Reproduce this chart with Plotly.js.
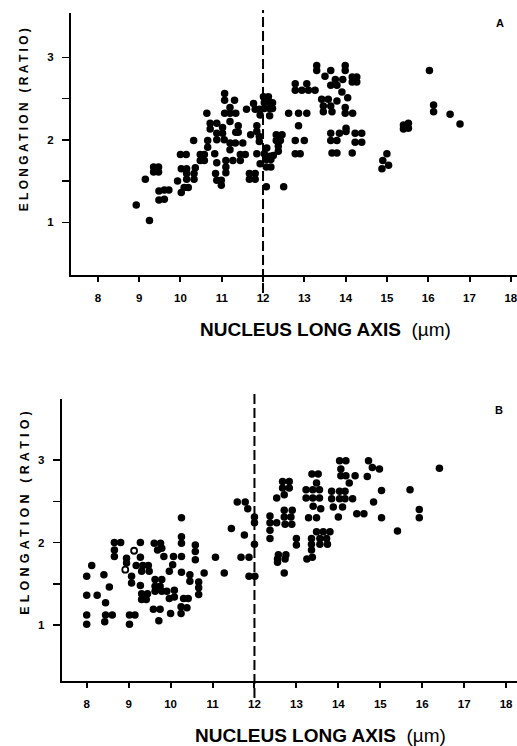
<!DOCTYPE html>
<html>
<head>
<meta charset="utf-8">
<script src="https://cdn.plot.ly/plotly-3.0.1.min.js"></script>
<style>html,body{margin:0;padding:0;background:#fff;}#chart{width:517px;height:746px;}</style>
</head>
<body>
<div id="chart"></div>
<script>
// ---- Data ----
const xTickVals = [8, 9, 10, 11, 12, 13, 14, 15, 16, 17, 18];
const xTickText = ['8', '9', '10', '11', '12', '13', '14', '15', '16', '17', '18'];
const yTickVals = [1, 1.5, 2, 2.5, 3];
const yTickText = ['1', '', '2', '', '3'];
const thresholdX = 12;

// Panel A
const aX = [8.93,9.25,9.15,
 9.35,9.47,9.35,9.47,
 9.48,9.61,9.72,9.48,9.61,
 9.93,10.02,10.0,10.14,10.02,10.15,
 10.15,10.33,10.15,10.33,10.09,10.19,
 10.32,10.36,10.48,10.58,10.48,10.58,
 10.64,10.66,10.66,10.72,10.88,10.72,
 10.83,10.88,10.88,10.88,11.02,11.02,
 10.85,10.88,10.99,10.99,
 11.07,11.07,11.31,11.07,11.20,11.20,11.34,11.20,
 11.06,11.20,11.33,11.20,11.34,11.40,11.40,11.51,
 11.10,11.27,11.10,11.10,11.45,11.57,11.45,
 11.60,11.70,11.77,11.81,11.91,11.85,11.85,11.91,11.91,
 11.67,11.81,11.67,11.81,11.85,11.93,
 12.01,12.13,12.03,12.17,12.03,12.16,11.93,12.16,12.23,12.23,
 12.09,12.03,12.17,12.25,12.08,12.19,12.08,12.19,
 12.08,12.50,
 12.32,12.46,12.32,12.42,12.37,12.37,
 12.62,
 12.78,13.06,12.78,12.94,13.10,13.26,
 12.86,13.06,12.86,12.78,13.00,12.78,12.90,
 13.30,13.30,
 13.42,13.58,13.46,13.64,13.46,13.67,
 13.50,13.64,13.64,13.79,13.75,13.93,13.79,13.91,
 13.99,13.99,14.05,13.99,13.99,14.17,
 14.16,14.27,14.16,14.27,
 13.64,13.85,13.64,13.79,14.01,14.01,
 13.67,13.79,14.16,
 14.23,14.39,14.23,14.39,
 14.88,14.90,15.00,15.04,
 15.40,15.52,15.40,15.52,
 16.03,16.13,16.13,16.53,16.77];
const aY = [1.21,1.02,1.52,
 1.67,1.67,1.61,1.61,
 1.38,1.39,1.39,1.27,1.28,
 1.50,1.36,1.82,1.82,1.65,1.65,
 1.59,1.59,1.52,1.52,1.42,1.42,
 1.99,1.66,1.82,1.82,1.75,1.75,
 2.32,1.99,1.91,2.20,2.20,2.13,
 1.83,2.00,1.72,2.08,2.08,2.15,
 1.59,1.51,1.51,1.45,
 2.56,2.48,2.48,2.32,2.32,2.39,2.32,2.22,
 2.00,1.96,1.96,1.88,2.09,2.09,2.17,1.96,
 1.75,1.75,1.67,1.60,1.82,1.82,1.75,
 2.37,2.06,2.44,2.37,2.37,2.17,2.10,2.04,1.98,
 1.59,1.59,1.52,1.52,1.83,1.71,
 2.52,2.52,2.45,2.45,2.38,2.38,2.30,2.29,2.45,2.38,
 1.90,1.83,1.80,1.81,1.76,1.76,1.67,1.67,
 1.43,1.43,
 2.06,2.06,1.99,1.99,1.92,1.86,
 2.32,
 2.68,2.68,2.60,2.60,2.60,2.60,
 2.32,2.32,2.17,1.99,1.99,1.83,1.83,
 2.90,2.84,
 2.49,2.49,2.41,2.41,2.34,2.34,
 2.77,2.84,2.66,2.66,2.73,2.73,2.47,2.58,
 2.90,2.84,2.51,2.39,2.32,2.32,
 2.76,2.76,2.70,2.70,
 2.08,2.08,1.99,1.99,2.14,2.10,
 1.84,1.84,1.84,
 2.08,2.08,1.97,1.97,
 1.65,1.75,1.83,1.69,
 2.18,2.20,2.13,2.14,
 2.84,2.42,2.34,2.31,2.19];

// Panel B
const bX = [8.00,8.00,8.00,8.00,8.12,8.25,8.41,8.45,8.45,8.61,8.43,8.54,
 8.66,8.81,8.66,8.66,8.95,8.95,
 9.02,9.15,9.02,9.07,9.07,9.18,9.34,9.47,9.28,9.28,9.31,9.49,9.28,9.31,9.45,9.31,9.42,
 9.61,9.76,9.69,9.79,9.84,9.63,9.79,9.63,9.75,9.63,9.79,9.91,9.59,9.75,9.72,
 10.07,10.05,9.97,9.97,10.00,10.09,10.09,
 10.26,10.26,10.26,10.26,10.26,10.31,10.42,10.25,10.25,10.39,10.46,10.46,
 10.59,10.59,10.59,10.67,10.67,10.67,10.80,
 11.07,11.28,11.45,11.59,11.78,11.84,11.76,11.68,11.87,11.87,12.01,
 12.00,12.00,12.00,
 12.37,12.37,12.37,12.37,12.53,12.53,
 12.67,12.83,12.67,12.83,12.71,12.71,12.90,12.71,12.87,12.73,12.89,
 12.57,12.75,12.55,12.73,12.55,12.71,
 13.00,13.00,
 13.23,13.39,13.55,13.23,13.39,13.55,13.37,13.52,13.48,13.40,13.58,13.29,13.48,
 13.48,13.64,13.80,13.36,13.56,13.72,13.36,13.56,13.74,13.36,13.25,13.38,
 13.84,14.03,14.16,13.84,14.03,14.16,13.88,14.10,14.00,
 14.03,14.18,14.06,14.06,14.18,14.40,14.26,14.34,14.44,14.61,
 14.72,14.81,14.98,14.69,15.03,14.84,15.03,
 15.41,15.71,15.93,15.93,16.41];
const bY = [1.59,1.36,1.12,1.01,1.72,1.36,1.61,1.27,1.12,1.12,1.04,1.46,
 2.00,2.00,1.91,1.83,1.81,1.75,
 1.12,1.12,1.01,1.59,1.51,1.72,1.72,1.72,2.00,1.82,1.65,1.65,1.48,1.38,1.38,1.31,1.31,
 1.99,1.99,1.91,1.93,1.83,1.55,1.55,1.47,1.47,1.41,1.41,1.41,1.19,1.19,1.05,
 1.83,1.73,1.65,1.32,1.14,1.42,1.34,
 2.30,2.07,1.99,1.83,1.64,1.32,1.32,1.22,1.14,1.21,1.61,1.53,
 1.97,1.89,1.79,1.52,1.45,1.37,1.63,
 1.82,1.63,2.17,2.49,2.49,2.41,2.09,1.82,1.82,1.59,1.59,
 2.31,2.24,1.98,
 2.32,2.24,2.15,2.05,2.24,2.54,
 2.74,2.74,2.66,2.66,2.58,2.39,2.39,2.31,2.31,2.22,2.22,
 1.85,1.85,1.80,1.80,1.76,1.63,
 2.05,1.97,
 2.64,2.64,2.64,2.54,2.54,2.54,2.83,2.83,2.72,2.44,2.41,2.30,2.30,
 2.13,2.13,2.13,2.05,2.05,2.05,1.98,1.98,1.98,1.91,1.80,1.82,
 2.62,2.62,2.62,2.53,2.53,2.53,2.43,2.43,2.31,
 2.99,2.99,2.89,2.81,2.81,2.81,2.72,2.53,2.35,2.35,
 2.99,2.91,2.89,2.80,2.63,2.49,2.30,
 2.14,2.64,2.40,2.30,2.90];
const bOpenX = [9.13, 8.92];
const bOpenY = [1.90, 1.67];

// ---- Figure ----
const dot = {color: '#000', size: 7.5};
const traces = [
  {x: aX, y: aY, xaxis: 'x', yaxis: 'y', type: 'scatter', mode: 'markers', marker: dot, hoverinfo: 'none'},
  {x: bX, y: bY, xaxis: 'x2', yaxis: 'y2', type: 'scatter', mode: 'markers', marker: dot, hoverinfo: 'none'},
  {x: bOpenX, y: bOpenY, xaxis: 'x2', yaxis: 'y2', type: 'scatter', mode: 'markers',
   marker: {color: '#fff', size: 6, symbol: 'circle', line: {color: '#000', width: 1.8}}, hoverinfo: 'none'}
];

const tickFont = {family: 'Liberation Sans, Arial, sans-serif', size: 11.5, color: '#000', weight: 'bold'};
function xAx(domainX, range, anchor) {
  return {domain: domainX, range: range, anchor: anchor,
    showline: true, linecolor: '#000', linewidth: 2, mirror: false,
    showgrid: false, zeroline: false,
    ticks: 'outside', ticklen: 5, tickwidth: 2, tickcolor: '#000',
    tickmode: 'array', tickvals: xTickVals, ticktext: xTickText,
    tickfont: tickFont, ticklabelstandoff: 6, ticklabeloverflow: 'allow', fixedrange: true};
}
function yAx(domain, range, anchor) {
  return {domain: domain, range: range, anchor: anchor,
    showline: true, linecolor: '#000', linewidth: 2, mirror: false,
    showgrid: false, zeroline: false,
    ticks: 'outside', ticklen: 7, tickwidth: 1.5, tickcolor: '#000',
    tickmode: 'array', tickvals: yTickVals, ticktext: yTickText,
    tickfont: tickFont, ticklabelstandoff: 6, ticklabeloverflow: 'allow', fixedrange: true};
}

const H = 746, W = 517;
const layout = {
  width: W, height: H,
  margin: {l: 0, r: 0, t: 0, b: 0, pad: 0},
  paper_bgcolor: '#fff', plot_bgcolor: '#fff',
  showlegend: false,
  xaxis: xAx([71/W, 1], [7.35, 18.15], 'y'),
  yaxis: yAx([(H-275.3)/H, (H-12.7)/H], [0.357, 3.54], 'x'),
  xaxis2: xAx([61.7/W, 1], [7.404, 18.26], 'y2'),
  yaxis2: yAx([(H-681)/H, (H-399.3)/H], [0.321, 3.736], 'x2'),
  shapes: [
    {type: 'line', xref: 'x', yref: 'paper', x0: thresholdX, x1: thresholdX,
     y0: (H-293)/H, y1: (H-10)/H, line: {color: '#000', width: 2, dash: '10px,4px'}},
    {type: 'line', xref: 'x2', yref: 'paper', x0: thresholdX, x1: thresholdX,
     y0: (H-698)/H, y1: (H-392)/H, line: {color: '#000', width: 2, dash: '10px,4px'}}
  ],
  annotations: [
    {text: 'A', xref: 'paper', yref: 'paper', x: 500/W, y: (H-23)/H, showarrow: false,
     xanchor: 'center', yanchor: 'middle', font: {family: 'Liberation Sans, Arial', size: 11, color: '#000', weight: 'bold'}},
    {text: 'B', xref: 'paper', yref: 'paper', x: 499/W, y: (H-410)/H, showarrow: false,
     xanchor: 'center', yanchor: 'middle', font: {family: 'Liberation Sans, Arial', size: 11, color: '#000', weight: 'bold'}},
    {text: '<b>NUCLEUS LONG AXIS</b>  (µm)', xref: 'paper', yref: 'paper', x: 325/W, y: (H-330)/H, showarrow: false,
     xanchor: 'center', yanchor: 'middle', font: {family: 'Liberation Sans, Arial', size: 19, color: '#000'}},
    {text: '<b>NUCLEUS LONG AXIS</b>  (µm)', xref: 'paper', yref: 'paper', x: 320/W, y: (H-735)/H, showarrow: false,
     xanchor: 'center', yanchor: 'middle', font: {family: 'Liberation Sans, Arial', size: 19, color: '#000'}},
    {text: '<b>ELONGATION (RATIO)</b>', xref: 'paper', yref: 'paper', x: 23.5/W, y: (H-118)/H, showarrow: false,
     textangle: -90, xanchor: 'center', yanchor: 'middle', font: {family: 'Liberation Sans, Arial', size: 12, color: '#000'}},
    {text: '<b>ELONGATION (RATIO)</b>', xref: 'paper', yref: 'paper', x: 25/W, y: (H-511)/H, showarrow: false,
     textangle: -90, xanchor: 'center', yanchor: 'middle', font: {family: 'Liberation Sans, Arial', size: 12.5, color: '#000'}}
  ]
};

Plotly.newPlot('chart', traces, layout, {staticPlot: true, displayModeBar: false}).then(function(gd) {
  // letter-spacing for the spaced-out vertical titles
  const anns = gd.querySelectorAll('.annotation-text');
  let k = 0;
  anns.forEach(function(t) {
    if (t.textContent.indexOf('ELONGATION') >= 0) {
      t.style.letterSpacing = (k === 0 ? '3.3px' : '4.2px');
      k++;
    }
  });
});
</script>
</body>
</html>
